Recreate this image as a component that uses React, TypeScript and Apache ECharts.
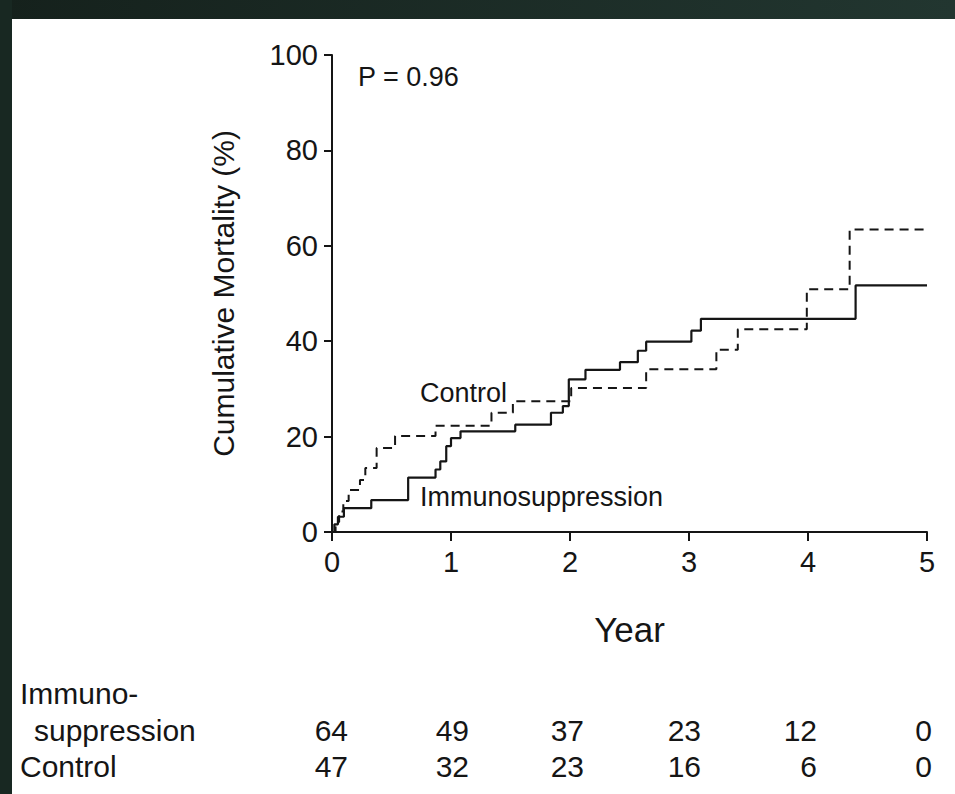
import React, { useEffect, useRef } from "react";
import * as echarts from "echarts";

// ---- data ----
const yearMin = 0;
const yearMax = 5;
const yearInterval = 1;
const mortalityMin = 0;
const mortalityMax = 100;
const mortalityInterval = 20;

// Kaplan-Meier style cumulative mortality (%), [year, percent]
const immunoYears = [0, 0.02, 0.05, 0.1, 0.33, 0.64, 0.87, 0.91, 0.96, 1.0, 1.08, 1.54, 1.84, 1.94, 1.99, 2.13, 2.42, 2.57, 2.64, 3.02, 3.1, 4.4, 5.0];
const immunoMortality = [0, 1.6, 3.2, 5.0, 6.7, 11.4, 13.1, 14.8, 18.0, 19.7, 21.1, 22.5, 25.0, 26.4, 32.0, 34.0, 35.6, 38.0, 39.9, 42.2, 44.7, 51.7, 51.7];

const controlYears = [0, 0.03, 0.06, 0.095, 0.14, 0.235, 0.28, 0.375, 0.53, 0.87, 1.34, 1.52, 2.01, 2.64, 3.23, 3.41, 3.99, 4.35, 5.0];
const controlMortality = [0, 2.1, 4.3, 6.5, 8.8, 10.9, 13.4, 17.6, 20.1, 22.3, 25.0, 27.4, 30.2, 34.1, 38.2, 42.5, 50.9, 63.4, 63.4];

const seriesNames = ["Immunosuppression", "Control"];
const pValueLabel = "P = 0.96";
const xAxisTitle = "Year";
const yAxisTitle = "Cumulative Mortality (%)";

const riskRowLabels = ["Immuno-", "suppression", "Control"];
const immunoAtRisk = [64, 49, 37, 23, 12, 0];
const controlAtRisk = [47, 32, 23, 16, 6, 0];

const FONT = "'Liberation Sans', Arial, Helvetica, sans-serif";
const INK = "#151515";

export default function App() {
  const ref = useRef<HTMLDivElement>(null);

  useEffect(() => {
    if (!ref.current) return;
    const chart = echarts.init(ref.current, undefined, { renderer: "svg" });

    const immunoData = immunoYears.map((x, i) => [x, immunoMortality[i]]);
    const controlData = controlYears.map((x, i) => [x, controlMortality[i]]);

    const tableStyle = { fill: INK, fontSize: 30, fontFamily: FONT, verticalAlign: "middle" };
    const colRight = [348, 469, 584, 701, 817, 932];
    const riskTexts: any[] = [];
    immunoAtRisk.forEach((v, i) => {
      riskTexts.push({ type: "text", x: colRight[i], y: 730, style: { ...tableStyle, text: String(v), align: "right" } });
    });
    controlAtRisk.forEach((v, i) => {
      riskTexts.push({ type: "text", x: colRight[i], y: 766, style: { ...tableStyle, text: String(v), align: "right" } });
    });

    const option: any = {
      animation: false,
      backgroundColor: "#ffffff",
      grid: { left: 332, top: 55, width: 595, height: 477, containLabel: false },
      xAxis: {
        type: "value",
        min: yearMin,
        max: yearMax,
        interval: yearInterval,
        name: xAxisTitle,
        nameLocation: "middle",
        nameGap: 80,
        nameTextStyle: { fontSize: 35, color: INK, fontFamily: FONT },
        axisLine: { show: true, onZero: false, lineStyle: { color: INK, width: 2 } },
        axisTick: { show: true, inside: false, length: 9, lineStyle: { color: INK, width: 2 } },
        axisLabel: { fontSize: 29, color: INK, fontFamily: FONT, margin: 15 },
        splitLine: { show: false },
      },
      yAxis: {
        type: "value",
        min: mortalityMin,
        max: mortalityMax,
        interval: mortalityInterval,
        name: yAxisTitle,
        nameLocation: "middle",
        nameGap: 94,
        nameRotate: 90,
        nameTextStyle: { fontSize: 30, color: INK, fontFamily: FONT },
        axisLine: { show: true, onZero: false, lineStyle: { color: INK, width: 2 } },
        axisTick: { show: true, inside: false, length: 8, lineStyle: { color: INK, width: 2 } },
        axisLabel: { fontSize: 29, color: INK, fontFamily: FONT, margin: 14 },
        splitLine: { show: false },
      },
      series: [
        {
          name: seriesNames[1],
          type: "line",
          step: "end",
          symbol: "none",
          data: controlData,
          lineStyle: { color: INK, width: 2, type: [9, 6] },
          z: 2,
        },
        {
          name: seriesNames[0],
          type: "line",
          step: "end",
          symbol: "none",
          data: immunoData,
          lineStyle: { color: INK, width: 2.2, type: "solid" },
          z: 3,
        },
      ],
      graphic: [
        {
          type: "rect",
          shape: { x: 0, y: 0, width: 955, height: 19 },
          style: {
            fill: new echarts.graphic.LinearGradient(0, 0, 1, 0, [
              { offset: 0, color: "#15211c" },
              { offset: 1, color: "#223630" },
            ]),
          },
          z: 100,
        },
        {
          type: "rect",
          shape: { x: 0, y: 0, width: 12, height: 794 },
          style: { fill: "#182822" },
          z: 100,
        },
        {
          type: "text",
          x: 358,
          y: 77,
          style: { text: pValueLabel, fill: INK, fontSize: 27, fontFamily: FONT, align: "left", verticalAlign: "middle" },
        },
        {
          type: "text",
          x: 420,
          y: 393,
          style: { text: seriesNames[1], fill: INK, fontSize: 27, fontFamily: FONT, align: "left", verticalAlign: "middle" },
        },
        {
          type: "text",
          x: 420,
          y: 497,
          style: { text: seriesNames[0], fill: INK, fontSize: 27, fontFamily: FONT, align: "left", verticalAlign: "middle" },
        },
        { type: "text", x: 20, y: 693, style: { ...tableStyle, text: riskRowLabels[0], align: "left" } },
        { type: "text", x: 34, y: 730, style: { ...tableStyle, text: riskRowLabels[1], align: "left" } },
        { type: "text", x: 20, y: 766, style: { ...tableStyle, text: riskRowLabels[2], align: "left" } },
        ...riskTexts,
      ],
    };

    chart.setOption(option);
    return () => chart.dispose();
  }, []);

  return (
    <div
      ref={ref}
      style={{ position: "absolute", left: 0, top: 0, width: 955, height: 794, background: "#fff" }}
    />
  );
}
